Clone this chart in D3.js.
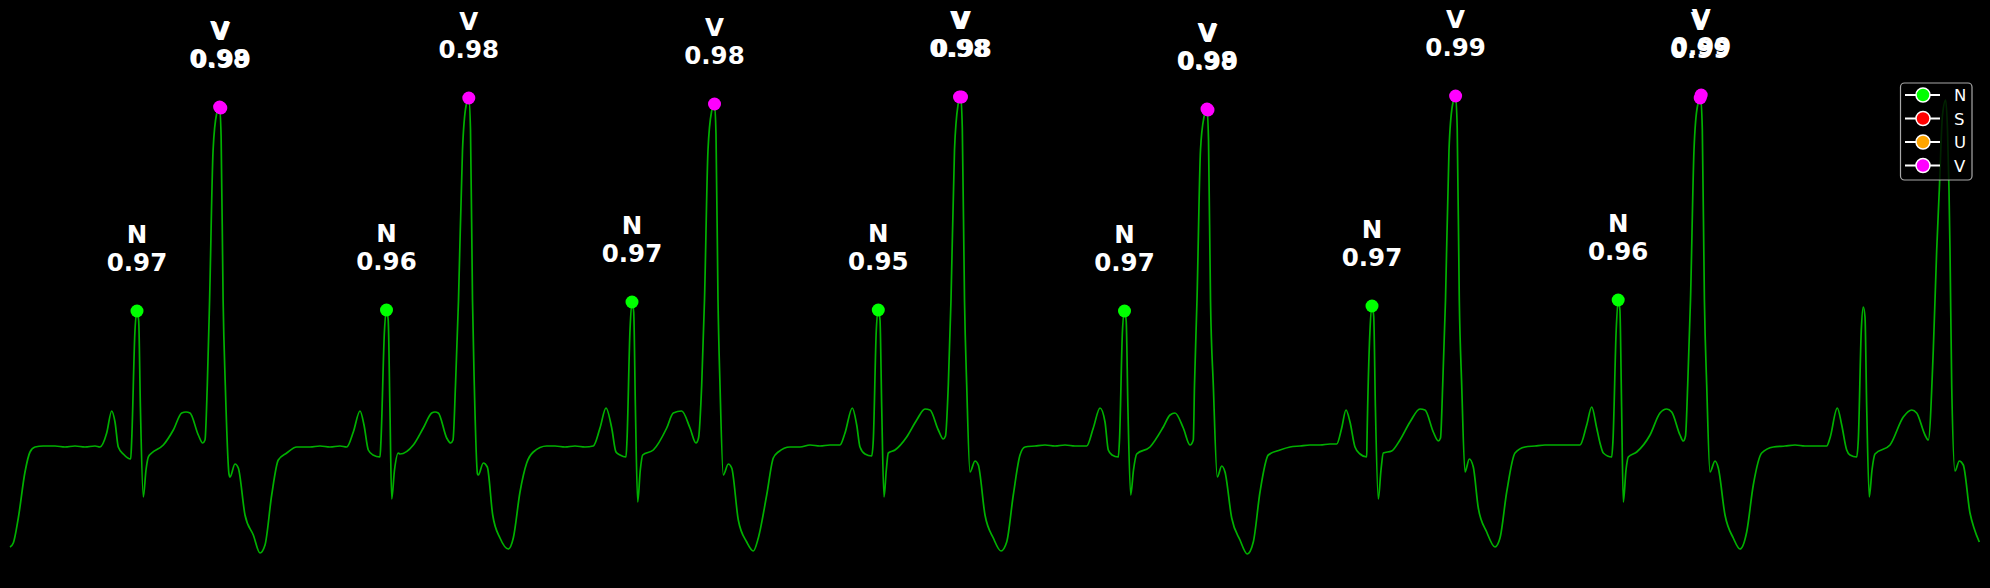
<!DOCTYPE html>
<html>
<head>
<meta charset="utf-8">
<script src="https://cdn.jsdelivr.net/npm/d3@7/dist/d3.min.js"></script>
<style>
  html, body { margin: 0; padding: 0; background: #000; }
  svg { display: block; }
</style>
</head>
<body>
<svg id="chart" width="1990" height="588"></svg>
<script>
// ECG trace, sample index vs amplitude (mV), read beat by beat
const beat1 = [[0,-0.97],[3.3,-0.93],[8.3,-0.68],[15,-0.22],[20,-0.02],[25,0.03],[33.3,0.04],[45,0.04],[55,0.03],[65,0.04],[75,0.03],[85,0.04],[90,0.03],[96.7,0.17],[101.7,0.39],[105,0.28],[108.3,0.03],[113.3,-0.04],[120.7,-0.09],[121.7,0.10],[125,1.20],[127,1.39],[128.7,1.29],[130.4,0.43],[133.3,-0.47],[136,-0.20],[138.3,-0.07],[141.7,-0.03],[153.3,0.05],[163.3,0.20],[171.7,0.37],[176,0.38],[180,0.37],[188.3,0.15],[192.7,0.07],[195,0.10],[197.3,0.65],[199.6,1.50],[203.1,3.00],[206.6,3.36],[209.6,3.43],[211.1,3.14],[213.1,1.50],[215.3,0.65],[219,-0.24],[220,-0.27],[225,-0.14],[228.3,-0.18],[235,-0.65],[243.3,-0.85],[250,-1.03],[255,-0.95],[261.7,-0.45],[268.3,-0.10],[276.7,-0.03],[286.7,0.03]];
const beat2 = [[300,0.03],[310,0.04],[320,0.03],[330,0.04],[336.7,0.03],[343.3,0.18],[350,0.39],[354,0.25],[358.3,0.00],[363,-0.05],[370,-0.07],[371,0.10],[374.5,1.20],[376.5,1.40],[378.2,1.30],[379.9,0.43],[381.7,-0.49],[384.5,-0.20],[388.3,-0.03],[390,-0.04],[403.3,0.05],[413.3,0.22],[421.7,0.37],[425,0.38],[428.3,0.37],[436.7,0.12],[440.7,0.07],[443,0.10],[445.5,0.65],[448.5,1.50],[452.5,3.00],[456,3.44],[458.8,3.52],[460.5,3.20],[462.5,1.50],[464.3,0.65],[467.5,-0.24],[468.3,-0.25],[473.3,-0.13],[477.3,-0.17],[482.7,-0.65],[490,-0.88],[498.3,-0.99],[503.3,-0.88],[510,-0.42],[516.7,-0.13],[523.3,-0.02],[536.7,0.04]];
const beat3 = [[545,0.04],[555,0.03],[565,0.04],[575,0.03],[583.3,0.04],[590,0.22],[596,0.42],[601.7,0.22],[606,-0.02],[610,-0.05],[616,-0.07],[617,0.10],[620,1.20],[622,1.48],[623.7,1.38],[625.4,0.43],[627.7,-0.52],[630.3,-0.20],[632.7,-0.05],[643.3,0.00],[656.7,0.22],[663.3,0.37],[671.7,0.39],[680,0.22],[686,0.07],[688.5,0.12],[691.7,0.65],[694.5,1.50],[698,3.00],[701.5,3.38],[704.5,3.46],[706,3.16],[708,1.50],[710,0.65],[713.3,-0.25],[718.3,-0.14],[721.7,-0.18],[728.3,-0.70],[736.7,-0.92],[743.3,-1.01],[748.3,-0.88],[756.7,-0.45],[763.3,-0.08],[768.3,-0.02],[780,0.03]];
const beat4 = [[790,0.03],[800,0.05],[810,0.04],[820,0.05],[830,0.05],[835,0.17],[842.3,0.42],[846.7,0.25],[850,0.03],[855,-0.04],[861.7,-0.06],[863.3,0.10],[866.3,1.20],[868.3,1.40],[870,1.30],[871.7,0.43],[874,-0.47],[876.3,-0.20],[878.3,-0.03],[885,0.00],[896.7,0.13],[906.7,0.30],[915,0.41],[920,0.40],[928.3,0.20],[933.3,0.11],[935.5,0.14],[938.3,0.65],[941,1.50],[944.5,3.00],[948,3.45],[950.7,3.54],[952.3,3.22],[954.5,1.50],[956.7,0.65],[960,-0.22],[965,-0.11],[968.3,-0.15],[975,-0.65],[983.3,-0.88],[991,-1.01],[996.7,-0.92],[1003.3,-0.45],[1010,-0.05],[1015,0.03]];
const beat5 = [[1025,0.04],[1035,0.05],[1045,0.04],[1055,0.05],[1065,0.04],[1076.7,0.04],[1083.3,0.22],[1090,0.42],[1095,0.28],[1098.3,0.00],[1102,-0.05],[1108.3,-0.07],[1109.5,0.10],[1112.5,1.20],[1114.5,1.39],[1116.2,1.29],[1117.9,0.43],[1120.7,-0.45],[1123.5,-0.20],[1126.7,-0.04],[1140,0.03],[1153.3,0.23],[1160,0.35],[1165,0.37],[1173.3,0.22],[1180,0.05],[1183.3,0.10],[1184.5,0.65],[1187,1.50],[1190.5,3.00],[1194,3.33],[1197,3.41],[1198.5,3.11],[1200.5,1.50],[1203.3,0.65],[1207.3,-0.27],[1211.7,-0.16],[1215,-0.22],[1221.7,-0.68],[1230,-0.90],[1237.3,-1.04],[1243.3,-0.92],[1250,-0.42],[1258.3,-0.05],[1270,0.00]];
const beat6 = [[1280,0.03],[1290,0.04],[1300,0.05],[1310,0.05],[1320,0.06],[1326.7,0.06],[1331.7,0.22],[1336,0.40],[1340,0.28],[1345,0.03],[1350,-0.04],[1356.7,-0.07],[1357,0.10],[1360,1.20],[1362,1.44],[1363.7,1.34],[1365.4,0.43],[1368.3,-0.49],[1371,-0.20],[1373.3,-0.03],[1381.7,-0.01],[1390,0.10],[1400,0.28],[1410,0.41],[1415,0.40],[1423.3,0.18],[1428.3,0.09],[1430.5,0.12],[1432.7,0.65],[1435.5,1.50],[1439,3.00],[1442.5,3.45],[1445.6,3.54],[1447.2,3.22],[1449.3,1.50],[1451.7,0.65],[1455,-0.22],[1459.3,-0.09],[1463.3,-0.17],[1468.3,-0.58],[1476.7,-0.82],[1485,-0.97],[1490,-0.88],[1496.7,-0.42],[1505,-0.03],[1515,0.03]];
const beat7 = [[1525,0.04],[1535,0.05],[1545,0.05],[1555,0.05],[1570,0.05],[1576.7,0.25],[1581.7,0.43],[1586.7,0.22],[1590,0.07],[1593.3,-0.03],[1601.7,-0.07],[1603,0.10],[1606.2,1.20],[1608.2,1.50],[1609.9,1.40],[1611.6,0.43],[1613.3,-0.52],[1616,-0.20],[1618.3,-0.07],[1626.7,-0.02],[1640,0.15],[1650,0.37],[1656.7,0.41],[1661.7,0.38],[1670,0.15],[1673.3,0.09],[1675.5,0.14],[1677.7,0.65],[1680.5,1.50],[1684,3.00],[1687.5,3.44],[1690.7,3.52],[1692.3,3.21],[1694.4,1.50],[1696.7,0.65],[1700,-0.22],[1705,-0.11],[1708.3,-0.18],[1715,-0.65],[1723.3,-0.88],[1730,-0.99],[1736.7,-0.82],[1743.3,-0.35],[1751.7,-0.03],[1763.3,0.03]];
const beat8 = [[1775,0.04],[1785,0.05],[1795,0.04],[1805,0.04],[1816.7,0.04],[1820,0.12],[1827.3,0.42],[1831.7,0.25],[1836.7,0.00],[1840,-0.05],[1846.7,-0.07],[1848.3,0.10],[1851.3,1.20],[1853.3,1.43],[1855,1.33],[1856.7,0.43],[1859.3,-0.47],[1862,-0.20],[1865,-0.04],[1880,0.05],[1893.3,0.33],[1901.7,0.40],[1906.7,0.37],[1915,0.15],[1918.3,0.10],[1923.3,1.00],[1926.7,2.00],[1929.3,2.60],[1932.5,3.35],[1935.7,3.50],[1937.5,3.20],[1939,2.60],[1940,2.00],[1941.7,0.65],[1945,-0.21],[1949.3,-0.11],[1953.3,-0.15],[1960,-0.63],[1964,-0.78],[1969.3,-0.92]];

// Beat detections: class, probability, sample index, amplitude
const markClass = ["N","V","V","N","V","N","V","N","V","V","N","V","V","N","V","N","V","V"];
const markProb  = ["0.97","0.98","0.99","0.96","0.98","0.97","0.98","0.95","0.98","0.98","0.97","0.98","0.99","0.97","0.99","0.96","0.99","0.99"];
const markX     = [127,209.6,210.8,376.5,458.8,622,704.5,868.3,949.5,951.5,1114.5,1197,1198,1362,1445.6,1608.2,1690.2,1691.2];
const markV     = [1.39,3.43,3.42,1.40,3.52,1.48,3.46,1.40,3.53,3.53,1.39,3.41,3.40,1.44,3.54,1.50,3.52,3.55];

// Legend
const legendClasses = ["N","S","U","V"];
const classColor = {N:"#00ff00", S:"#ff0000", U:"#ffa500", V:"#ff00ff"};

const trace = [beat1,beat2,beat3,beat4,beat5,beat6,beat7,beat8].flat();

const svg = d3.select("#chart");
svg.append("rect").attr("width",1990).attr("height",588).attr("fill","#000");

const x = d3.scaleLinear().domain([0,1970]).range([10,1980]);
const y = d3.scaleLinear().domain([-1.3,4.4]).range([580,10]);

const line = d3.line().curve(d3.curveMonotoneX).x(d => x(d[0])).y(d => y(d[1]));
svg.append("path").datum(trace)
  .attr("d", line).attr("fill","none")
  .attr("stroke","#00b000").attr("stroke-width",1.7)
  .attr("stroke-linejoin","round");

const marks = markClass.map((c,i) => ({c, p:markProb[i], x:markX[i], v:markV[i]}));

svg.append("g").selectAll("circle").data(marks).join("circle")
  .attr("cx", d => x(d.x)).attr("cy", d => y(d.v)).attr("r", 6.5)
  .attr("fill", d => classColor[d.c]);

const lbl = svg.append("g").attr("font-family","DejaVu Sans").attr("font-weight","bold")
  .attr("font-size",24.5).attr("fill","#fff").attr("text-anchor","middle");
marks.forEach(d => {
  const t = lbl.append("text").attr("x", x(d.x)).attr("y", y(d.v) - 68);
  t.append("tspan").attr("x", x(d.x)).text(d.c);
  t.append("tspan").attr("x", x(d.x)).attr("dy", 28).text(d.p);
});

// legend
const lg = svg.append("g");
lg.append("rect").attr("x",1900.5).attr("y",83).attr("width",71.5).attr("height",97)
  .attr("rx",4).attr("fill","#000").attr("fill-opacity",0.8)
  .attr("stroke","#a8a8a8").attr("stroke-width",1.2);
legendClasses.forEach((c,i) => {
  const cy = 95 + i*23.5;
  lg.append("line").attr("x1",1905).attr("x2",1940).attr("y1",cy).attr("y2",cy)
    .attr("stroke","#fff").attr("stroke-width",2);
  lg.append("circle").attr("cx",1923).attr("cy",cy).attr("r",7)
    .attr("fill",classColor[c]).attr("stroke","#fff").attr("stroke-width",1.5);
  lg.append("text").attr("x",1954).attr("y",cy+6).attr("font-family","DejaVu Sans")
    .attr("font-size",16.5).attr("fill","#fff").text(c);
});
</script>
</body>
</html>
